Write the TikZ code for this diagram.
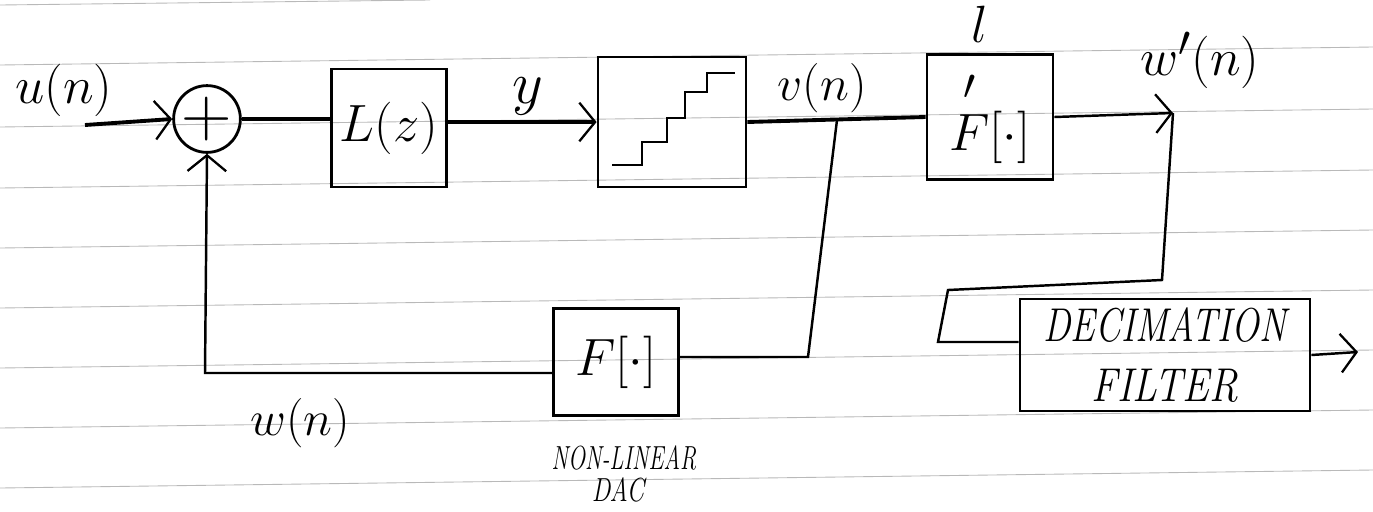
\documentclass[tikz,border=0pt]{standalone}
\usepackage{amsmath}
\usepackage{fontspec}
\usetikzlibrary{arrows.meta}
\newcommand{\lab}[2]{\scalebox{#1}{\fontsize{24.88}{28}\selectfont$#2$}}
\begin{document}
\begin{tikzpicture}[x=0.02cm,y=-0.02cm,
  rule/.style={gray!55,line width=0.5pt},
  wire/.style={line width=1.4pt},
  bus/.style={line width=2.2pt},
  chev/.style={-{Straight Barb[length=9pt,width=22pt,line width=1.3pt]}},
  blk/.style={draw,line width=1.6pt,rectangle,inner sep=0pt},
  note/.style={font=\fontsize{19}{22}\selectfont\itshape}]
\useasboundingbox (0,0) rectangle (1373,511);
\fill[white] (0,0) rectangle (1373,511);
\foreach \y in {65,127,188,248,308,368,428,488} \draw[rule] (0,\y) -- (1373,\y-18);
\draw[rule] (0,5) -- (430,0);
% blocks
\node[blk,circle,minimum size=1.12cm] (sum) at (207,119) {\lab{1.6}{+}};
\node[blk,minimum width=2.3cm,minimum height=2.36cm] (Lz) at (389,128) {\lab{1.2}{L(z)}};
\node[blk,minimum width=2.96cm,minimum height=2.6cm] (Q) at (672,122) {};
\begin{scope}[shift={(Q.center)}]
\draw[line width=1.6pt] (-60,43) -- (-30,43) -- (-30,20) -- (-5,20) -- (-5,-4) -- (13,-4) -- (13,-30) -- (35,-30) -- (35,-49) -- (63,-49);
\end{scope}
\node[blk,minimum width=2.52cm,minimum height=2.5cm] (Fp) at (990,117) {\lab{1.2}{\overset{\raisebox{2pt}{$\scriptstyle\prime$}}{F}[\cdot]}};
\node[blk,minimum width=2.5cm,minimum height=2.14cm] (Fb) at (616,362) {\lab{1.2}{F[\cdot]}};
\node[blk,minimum width=5.8cm,minimum height=2.24cm,align=center,font=\fontsize{27}{34}\selectfont\itshape] (DF) at (1165,355) {\scalebox{0.78}[1]{DECIMATION}\\\scalebox{0.85}[1]{FILTER}};
% labels
\node (un) at (64,90) {\lab{1.2}{u(n)}};
\node (ylab) at (528,96) {\lab{1.37}{y}};
\node (vn) at (822,88) {\lab{1.13}{v(n)}};
\node (ell) at (980,24) {\lab{1.2}{l}};
\node (wpn) at (1200,60) {\lab{1.2}{w'(n)}};
\node (wn) at (300,423) {\lab{1.13}{w(n)}};
\node[note] (nl) at (624,458) {\scalebox{0.68}[1]{NON-LINEAR}};
\node[note] (dac) at (618,490) {\scalebox{0.75}[1]{DAC}};
% connectors
\coordinate (in) at (85,125);
\draw[bus,chev] (in) -- (sum.west);
\draw[bus] (sum.east) -- (sum.east -| Lz.west);
\coordinate (m) at (0,122);
\draw[bus,chev] (Lz.east |- m) -- (Q.west |- m);
\draw[bus] (Q.east) -- (Fp.west);
\coordinate (j) at (837,120);
\coordinate (jb) at (808,357);
\draw[wire] (j) -- (jb) -- (jb -| Fb.east);
\coordinate (fbl) at (205,373);
\draw[wire,chev] (fbl -| Fb.west) -- (fbl) -- (sum.south);
\coordinate (wp) at (1173,113);
\draw[wire,chev] (Fp.east) -- (wp);
\coordinate (d1) at (1162,280);
\coordinate (d2) at (948,290);
\coordinate (d3) at (938,342);
\draw[wire] (wp) -- (d1) -- (d2) -- (d3) -- (d3 -| DF.west);
\coordinate (out) at (1358,352);
\draw[wire,chev] (DF.east) -- (out);
\end{tikzpicture}
\end{document}
